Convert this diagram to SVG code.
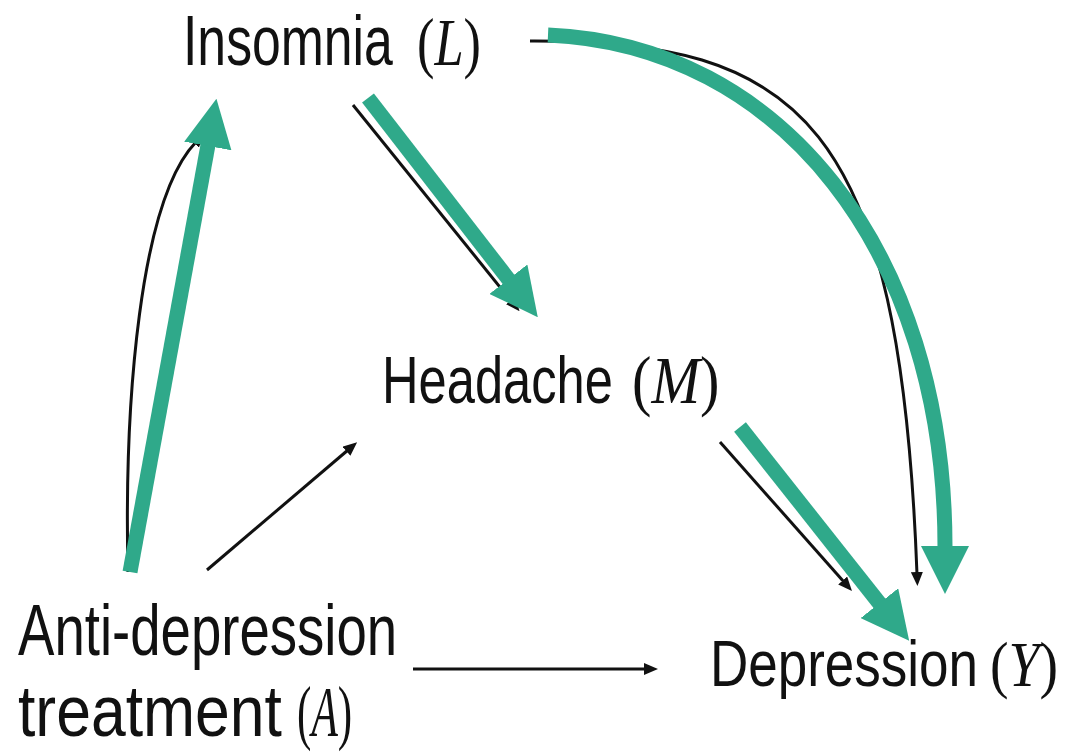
<svg xmlns="http://www.w3.org/2000/svg" width="1068" height="753" viewBox="0 0 1068 753">
  <style>
    .lbl { font-family: "Liberation Sans", Arial, sans-serif; fill: #111; }
    .m { font-family: "Liberation Serif", "DejaVu Serif", serif; fill: #111; }
    .mi { font-style: italic; }
    .blk { fill: none; stroke: #111; stroke-width: 3; }
    .grn { fill: none; stroke: #2FA98A; stroke-width: 15; }
  </style>
  <defs>
    <marker id="ah" viewBox="0 0 14 12" refX="2" refY="6" markerWidth="14" markerHeight="12" markerUnits="userSpaceOnUse" orient="auto">
      <path d="M0,0 L14,6 L0,12 z" fill="#111"/>
    </marker>
    <marker id="gh" viewBox="0 0 48 48" refX="1" refY="24" markerWidth="48" markerHeight="48" markerUnits="userSpaceOnUse" orient="auto">
      <path d="M0,0 L48,24 L0,48 z" fill="#2FA98A"/>
    </marker>
  </defs>
  <rect width="1068" height="753" fill="#ffffff"/>

  <g id="connectors">
    <!-- black arrows -->
    <path class="blk" d="M128,572 C124,400 140,200 196,142" marker-end="url(#ah)"/>
    <path class="blk" d="M353,105 L512,302" marker-end="url(#ah)"/>
    <path class="blk" d="M207,570 L348,450" marker-end="url(#ah)"/>
    <path class="blk" d="M413,669 L646,669" marker-end="url(#ah)"/>
    <path class="blk" d="M720,442 L844,582" marker-end="url(#ah)"/>
    <path class="blk" d="M530,41 C800,40 900,120 917,574" marker-end="url(#ah)"/>
    <!-- green highlighted path arrows -->
    <path class="grn" d="M130,572 L208,145" marker-end="url(#gh)"/>
    <path class="grn" d="M368,98 L509,280" marker-end="url(#gh)"/>
    <path class="grn" d="M740,427 L880,604" marker-end="url(#gh)"/>
    <path class="grn" d="M548,35 C780,45 945,250 945,547" marker-end="url(#gh)"/>
  </g>

  <g id="node-L">
    <text class="lbl" font-size="70" transform="translate(183,65) scale(0.739,1)">Insomnia</text>
    <text class="m" font-size="68" transform="translate(417,65) scale(0.77,1)">(<tspan class="mi">L</tspan>)</text>
  </g>
  <g id="node-M">
    <text class="lbl" font-size="67" transform="translate(382,403) scale(0.756,1)">Headache</text>
    <text class="m" font-size="67" transform="translate(632,403) scale(0.87,1)">(<tspan class="mi">M</tspan>)</text>
  </g>
  <g id="node-A">
    <text class="lbl" font-size="72" transform="translate(18,655) scale(0.758,1)">Anti-depression</text>
    <text class="lbl" font-size="72" transform="translate(18,736) scale(0.868,1)">treatment</text>
    <text class="m" font-size="72" transform="translate(297,736) scale(0.6,1)">(<tspan class="mi">A</tspan>)</text>
  </g>
  <g id="node-Y">
    <text class="lbl" font-size="64" transform="translate(710,686) scale(0.828,1)">Depression</text>
    <text class="m" font-size="64" transform="translate(990,686) scale(0.87,1)">(<tspan class="mi">Y</tspan>)</text>
  </g>
</svg>
